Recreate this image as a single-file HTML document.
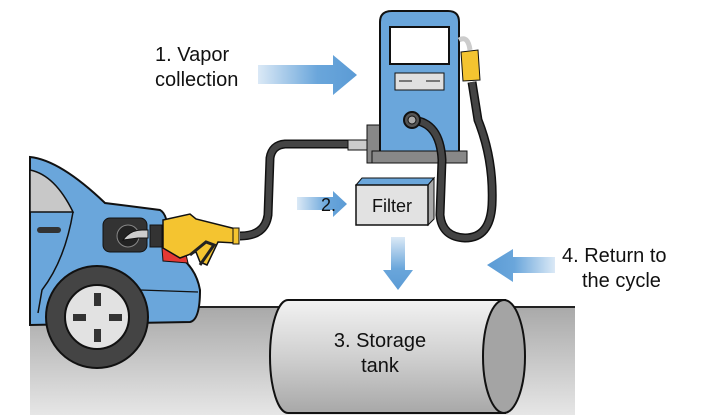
<!DOCTYPE html>
<html><head><meta charset="utf-8"><style>
html,body{margin:0;padding:0;background:#fff;}
svg{display:block;font-family:"Liberation Sans",sans-serif;}
</style></head><body>
<svg width="715" height="415" viewBox="0 0 715 415" xmlns="http://www.w3.org/2000/svg">
<defs>
<linearGradient id="ar" x1="0" x2="1" y1="0" y2="0"><stop offset="0" stop-color="#dbe9f6"/><stop offset="0.6" stop-color="#6aa6db"/><stop offset="1" stop-color="#5b9bd5"/></linearGradient>
<linearGradient id="al" x1="1" x2="0" y1="0" y2="0"><stop offset="0" stop-color="#dbe9f6"/><stop offset="0.6" stop-color="#6aa6db"/><stop offset="1" stop-color="#5b9bd5"/></linearGradient>
<linearGradient id="ad" x1="0" x2="0" y1="0" y2="1"><stop offset="0" stop-color="#dbe9f6"/><stop offset="0.6" stop-color="#6aa6db"/><stop offset="1" stop-color="#5b9bd5"/></linearGradient>
<linearGradient id="gr" x1="0" x2="0" y1="0" y2="1"><stop offset="0" stop-color="#a9a9a9"/><stop offset="1" stop-color="#e6e6e6"/></linearGradient>
<linearGradient id="tk" x1="0" x2="0" y1="0" y2="1"><stop offset="0" stop-color="#f2f2f2"/><stop offset="0.5" stop-color="#d0d0d0"/><stop offset="1" stop-color="#a8a8a8"/></linearGradient>
</defs>
<!-- ground -->
<rect x="30" y="307" width="545" height="108" fill="url(#gr)"/>
<line x1="30" y1="307" x2="575" y2="307" stroke="#222" stroke-width="2"/>
<!-- tank -->
<path d="M288 300 L505 300 L505 413 L288 413 A18 56.5 0 0 1 288 300 Z" fill="url(#tk)" stroke="#111" stroke-width="2"/>
<ellipse cx="504" cy="356.5" rx="21" ry="56.5" fill="#a4a4a4" stroke="#111" stroke-width="2"/>
<text x="380" y="347" font-size="20" text-anchor="middle" fill="#111">3. Storage</text>
<text x="380" y="372" font-size="20" text-anchor="middle" fill="#111">tank</text>
<!-- car -->
<path d="M30 157 Q60 160 105 203 L160 210 Q170 215 168 250 Q195 262 200 290 Q200 320 190 322 L30 325 Z" fill="#6aa6db" stroke="#111" stroke-width="2"/>
<path d="M30 170 Q55 175 73 212 L30 212 Z" fill="#c8c8c8" stroke="#111" stroke-width="1.5"/>
<path d="M73 212 Q65 260 42 290 L38 313" fill="none" stroke="#111" stroke-width="1.5"/>
<path d="M140 290 L198 292" fill="none" stroke="#111" stroke-width="1.2"/>
<rect x="37" y="227" width="24" height="6" rx="3" fill="#333"/>
<rect x="103" y="218" width="44" height="34" rx="7" fill="#333" stroke="#111"/>
<circle cx="128" cy="236" r="11" fill="#222" stroke="#888"/>
<path d="M123 240 Q130 230 142 230 L148 230 L148 238 L138 238 Z" fill="#ccc" stroke="#111"/>
<circle cx="97" cy="317" r="51" fill="#444" stroke="#111" stroke-width="2"/>
<circle cx="97" cy="317" r="32" fill="#e2e2e2" stroke="#111" stroke-width="2"/>
<rect x="94" y="293" width="7" height="13" fill="#333"/><rect x="94" y="329" width="7" height="13" fill="#333"/>
<rect x="73" y="314" width="13" height="7" fill="#333"/><rect x="109" y="314" width="13" height="7" fill="#333"/>
<!-- nozzle -->
<path d="M162 248 L185 250 L188 263 L163 261 Z" fill="#e53935" stroke="#111"/>
<rect x="150" y="225" width="12" height="22" fill="#333" stroke="#111"/>
<path d="M163 220 L190 214 L196 219 L236 229 L236 243 L218 242 L207 265 L200 262 L196 252 L180 258 L163 248 Z" fill="#f4c430" stroke="#111" stroke-width="1.5"/>
<path d="M190 255 L206 242 L214 245 L200 265" fill="none" stroke="#222" stroke-width="3"/>
<rect x="233" y="228" width="6" height="16" fill="#f4c430" stroke="#111"/>
<!-- left hose -->
<path d="M240 236 Q265 236 268 215 L270 158 Q272 145 285 144 L350 144" fill="none" stroke="#111" stroke-width="9"/>
<path d="M240 236 Q265 236 268 215 L270 158 Q272 145 285 144 L350 144" fill="none" stroke="#444" stroke-width="6"/>
<rect x="348" y="140" width="22" height="10" fill="#ccc" stroke="#111"/>
<rect x="367" y="125" width="14" height="38" fill="#888" stroke="#111"/>
<!-- pump -->
<path d="M380 155 L380 22 Q380 11 392 11 L448 11 Q459 11 459 22 L459 155 Z" fill="#6aa6db" stroke="#111" stroke-width="2"/>
<rect x="390" y="27" width="59" height="37" fill="#fff" stroke="#111" stroke-width="2"/>
<rect x="395" y="73" width="49" height="17" fill="#e0e0e0" stroke="#111"/>
<line x1="399" y1="81" x2="412" y2="81" stroke="#111"/><line x1="426" y1="81" x2="440" y2="81" stroke="#111"/>
<rect x="372" y="151" width="95" height="12" fill="#888" stroke="#111"/>
<path d="M459 40 Q468 35 470 50" fill="none" stroke="#ccc" stroke-width="5"/>
<path d="M461 52 L478 50 L480 80 L463 81 Z" fill="#f4c430" stroke="#111"/>
<!-- right hose -->
<path d="M412 120 Q440 122 442 160 L440 215 Q442 237 465 238 Q490 238 492 205 Q494 160 478 120 L472 82" fill="none" stroke="#111" stroke-width="9"/>
<path d="M412 120 Q440 122 442 160 L440 215 Q442 237 465 238 Q490 238 492 205 Q494 160 478 120 L472 82" fill="none" stroke="#444" stroke-width="6"/>
<circle cx="412" cy="120" r="8" fill="#555" stroke="#111" stroke-width="2"/>
<circle cx="412" cy="120" r="4" fill="#aaa" stroke="#111"/>
<!-- filter -->
<path d="M356 185 L362 178 L434 178 L428 185 Z" fill="#6aa6db" stroke="#111"/>
<path d="M428 185 L434 178 L434 219 L428 225 Z" fill="#aaa" stroke="#111"/>
<rect x="356" y="185" width="72" height="40" fill="#e2e2e2" stroke="#111" stroke-width="1.5"/>
<text x="392" y="212" font-size="18" text-anchor="middle" fill="#111">Filter</text>
<!-- arrows -->
<path d="M258 65 L333 65 L333 55 L357 75 L333 95 L333 84 L258 84 Z" fill="url(#ar)"/>
<path d="M297 197 L333 197 L333 191 L347 204 L333 217 L333 210 L297 210 Z" fill="url(#ar)"/>
<text x="321" y="211" font-size="18" fill="#111">2.</text>
<path d="M391 237 L405 237 L405 270 L413 270 L398 290 L383 270 L391 270 Z" fill="url(#ad)"/>
<path d="M555 257 L513 257 L513 249 L487 265 L513 282 L513 273 L555 273 Z" fill="url(#al)"/>
<!-- labels -->
<text x="155" y="61" font-size="20" fill="#111">1. Vapor</text>
<text x="155" y="86" font-size="20" fill="#111">collection</text>
<text x="562" y="262" font-size="20" fill="#111">4. Return to</text>
<text x="582" y="287" font-size="20" fill="#111">the cycle</text>
</svg>
</body></html>
